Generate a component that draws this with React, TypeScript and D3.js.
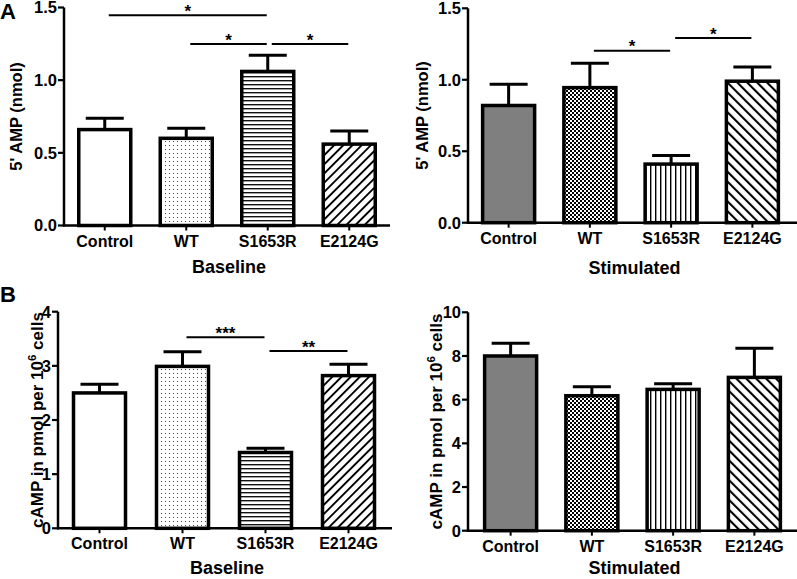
import React from "react";
import * as d3 from "d3";

const categories = ["Control", "WT", "S1653R", "E2124G"];

const ampBaselineMean = [0.66, 0.6, 1.06, 0.56];
const ampBaselineSem = [0.078, 0.07, 0.112, 0.09];
const ampStimMean = [0.82, 0.945, 0.41, 0.99];
const ampStimSem = [0.148, 0.17, 0.06, 0.1];
const campBaselineMean = [2.5, 2.99, 1.4, 2.82];
const campBaselineSem = [0.16, 0.27, 0.08, 0.21];
const campStimMean = [8.0, 6.18, 6.47, 7.02];
const campStimSem = [0.58, 0.41, 0.26, 1.33];

const ampTicks = [0, 0.5, 1.0, 1.5];
const campBaselineTicks = [0, 1, 2, 3, 4];
const campStimTicks = [0, 2, 4, 6, 8, 10];

const ampBaselineSig = [
  { from: 0, to: 2, level: 1.447, label: "*" },
  { from: 1, to: 2, level: 1.248, label: "*" },
  { from: 2, to: 3, level: 1.248, label: "*" },
];
const ampStimSig = [
  { from: 1, to: 2, level: 1.203, label: "*" },
  { from: 2, to: 3, level: 1.292, label: "*" },
];
const campBaselineSig = [
  { from: 1, to: 2, level: 3.527, label: "***" },
  { from: 2, to: 3, level: 3.274, label: "**" },
];
const campStimSig: { from: number; to: number; level: number; label: string }[] = [];

const baselineFills = ["#ffffff", "url(#dots)", "url(#hlines)", "url(#diagUp)"];
const stimFills = ["#7f7f7f", "url(#checker)", "url(#vlines)", "url(#diagDown)"];

const FONT = "'Liberation Sans', Arial, Helvetica, sans-serif";

type Sig = { from: number; to: number; level: number; label: string };

interface PanelProps {
  axisX: number;
  axisEnd: number;
  rangeStart: number;
  rangeEnd: number;
  yTopPx: number;
  yZeroPx: number;
  yMax: number;
  ticks: number[];
  tickFormat: (v: number) => string;
  means: number[];
  sems: number[];
  fills: string[];
  sig: Sig[];
  xTitle: string;
  xTitleY: number;
  yLabelX: number;
  yLabelSize: number;
  yLabel: React.ReactNode;
}

function Panel(p: PanelProps) {
  const x = d3.scalePoint<string>().domain(categories).range([p.rangeStart, p.rangeEnd]).padding(0.5);
  const y = d3.scaleLinear().domain([0, p.yMax]).range([p.yZeroPx, p.yTopPx]);
  const barW = 52;
  const capW = 38;
  const yMid = (p.yTopPx + p.yZeroPx) / 2;
  const xMid = (p.axisX + p.axisEnd) / 2;
  return (
    <g fontFamily={FONT} fontWeight="bold">
      {categories.map((c, i) => {
        const cx = x(c)!;
        const top = y(p.means[i]);
        const errTop = y(p.means[i] + p.sems[i]);
        return (
          <g key={c}>
            <line x1={cx} x2={cx} y1={top} y2={errTop} stroke="#000" strokeWidth={3} />
            <line x1={cx - capW / 2} x2={cx + capW / 2} y1={errTop} y2={errTop} stroke="#000" strokeWidth={3} />
            <rect
              x={cx - barW / 2}
              y={top}
              width={barW}
              height={p.yZeroPx - top}
              fill={p.fills[i]}
              stroke="#000"
              strokeWidth={3.5}
            />
          </g>
        );
      })}
      <line x1={p.axisX} x2={p.axisX} y1={p.yTopPx} y2={p.yZeroPx + 1} stroke="#000" strokeWidth={2.5} />
      <line x1={p.axisX - 1} x2={p.axisEnd} y1={p.yZeroPx} y2={p.yZeroPx} stroke="#000" strokeWidth={2.5} />
      {p.ticks.map((t) => (
        <g key={t}>
          <line x1={p.axisX - 6} x2={p.axisX} y1={y(t)} y2={y(t)} stroke="#000" strokeWidth={2.2} />
          <text x={p.axisX - 7} y={y(t)} dy="0.36em" textAnchor="end" fontSize={16.5}>
            {p.tickFormat(t)}
          </text>
        </g>
      ))}
      {categories.map((c) => (
        <g key={"xt" + c}>
          <line x1={x(c)!} x2={x(c)!} y1={p.yZeroPx} y2={p.yZeroPx + 5} stroke="#000" strokeWidth={2} />
          <text x={x(c)!} y={p.yZeroPx + 21} textAnchor="middle" fontSize={16}>
            {c}
          </text>
        </g>
      ))}
      <text x={xMid + 2} y={p.xTitleY} textAnchor="middle" fontSize={18}>
        {p.xTitle}
      </text>
      <text transform={`translate(${p.yLabelX},${yMid}) rotate(-90)`} textAnchor="middle" fontSize={p.yLabelSize}>
        {p.yLabel}
      </text>
      {p.sig.map((s, i) => {
        const x1 = x(categories[s.from])! + 4;
        const x2 = x(categories[s.to])! - 1;
        const ly = y(s.level);
        return (
          <g key={"s" + i}>
            <line x1={x1} x2={x2} y1={ly} y2={ly} stroke="#000" strokeWidth={2} />
            <text x={(x1 + x2) / 2} y={ly + 1.5} textAnchor="middle" fontSize={17}>
              {s.label}
            </text>
          </g>
        );
      })}
    </g>
  );
}

const campLabel = (
  <>
    <tspan>cAMP in pmol per 10</tspan>
    <tspan dy={-7} fontSize={11.5}>6</tspan>
    <tspan dy={7}> cells</tspan>
  </>
);

export default function App() {
  const f1 = d3.format(".1f");
  const f0 = d3.format("d");
  return (
    <svg
      width={797}
      height={579}
      viewBox="0 0 797 579"
      style={{ position: "absolute", left: 0, top: 0, background: "#fff" }}
    >
      <defs>
        <pattern id="dots" width={4} height={4} patternUnits="userSpaceOnUse">
          <rect width={4} height={4} fill="#fff" />
          <rect x={1} y={1} width={1} height={1} fill="#444" />
        </pattern>
        <pattern id="hlines" width={4} height={4} patternUnits="userSpaceOnUse">
          <rect width={4} height={4} fill="#fff" />
          <rect x={0} y={0} width={4} height={1.4} fill="#111" />
        </pattern>
        <pattern id="vlines" width={5} height={5} patternUnits="userSpaceOnUse">
          <rect width={5} height={5} fill="#fff" />
          <rect x={0} y={0} width={1.4} height={5} fill="#000" />
        </pattern>
        <pattern id="checker" width={4} height={4} patternUnits="userSpaceOnUse">
          <rect width={4} height={4} fill="#fff" />
          <rect x={0} y={0} width={2} height={2} fill="#000" />
          <rect x={2} y={2} width={2} height={2} fill="#000" />
        </pattern>
        <pattern id="diagUp" width={6.5} height={6.5} patternUnits="userSpaceOnUse" patternTransform="rotate(45)">
          <rect width={6.5} height={6.5} fill="#fff" />
          <rect x={0} y={0} width={1.9} height={6.5} fill="#000" />
        </pattern>
        <pattern id="diagDown" width={7} height={7} patternUnits="userSpaceOnUse" patternTransform="rotate(-45)">
          <rect width={7} height={7} fill="#fff" />
          <rect x={0} y={0} width={2.1} height={7} fill="#000" />
        </pattern>
      </defs>
      <rect width={797} height={579} fill="#fff" />

      <text x={0} y={19} fontFamily={FONT} fontWeight="bold" fontSize={22}>A</text>
      <text x={0} y={302} fontFamily={FONT} fontWeight="bold" fontSize={22}>B</text>

      <Panel
        axisX={64}
        axisEnd={390}
        rangeStart={64}
        rangeEnd={390}
        yTopPx={7.5}
        yZeroPx={225.5}
        yMax={1.5}
        ticks={ampTicks}
        tickFormat={f1}
        means={ampBaselineMean}
        sems={ampBaselineSem}
        fills={baselineFills}
        sig={ampBaselineSig}
        xTitle="Baseline"
        xTitleY={273}
        yLabelX={22}
        yLabelSize={16.5}
        yLabel="5' AMP (nmol)"
      />
      <Panel
        axisX={468}
        axisEnd={797}
        rangeStart={468}
        rangeEnd={793}
        yTopPx={8.3}
        yZeroPx={222.7}
        yMax={1.5}
        ticks={ampTicks}
        tickFormat={f1}
        means={ampStimMean}
        sems={ampStimSem}
        fills={stimFills}
        sig={ampStimSig}
        xTitle="Stimulated"
        xTitleY={274}
        yLabelX={428}
        yLabelSize={16.5}
        yLabel="5' AMP (nmol)"
      />
      <Panel
        axisX={58}
        axisEnd={392}
        rangeStart={58}
        rangeEnd={390}
        yTopPx={311.7}
        yZeroPx={528.3}
        yMax={4}
        ticks={campBaselineTicks}
        tickFormat={f0}
        means={campBaselineMean}
        sems={campBaselineSem}
        fills={baselineFills}
        sig={campBaselineSig}
        xTitle="Baseline"
        xTitleY={574}
        yLabelX={43}
        yLabelSize={17}
        yLabel={campLabel}
      />
      <Panel
        axisX={468}
        axisEnd={797}
        rangeStart={470}
        rangeEnd={795}
        yTopPx={312.3}
        yZeroPx={530.7}
        yMax={10}
        ticks={campStimTicks}
        tickFormat={f0}
        means={campStimMean}
        sems={campStimSem}
        fills={stimFills}
        sig={campStimSig}
        xTitle="Stimulated"
        xTitleY={574}
        yLabelX={442}
        yLabelSize={17}
        yLabel={campLabel}
      />
    </svg>
  );
}
